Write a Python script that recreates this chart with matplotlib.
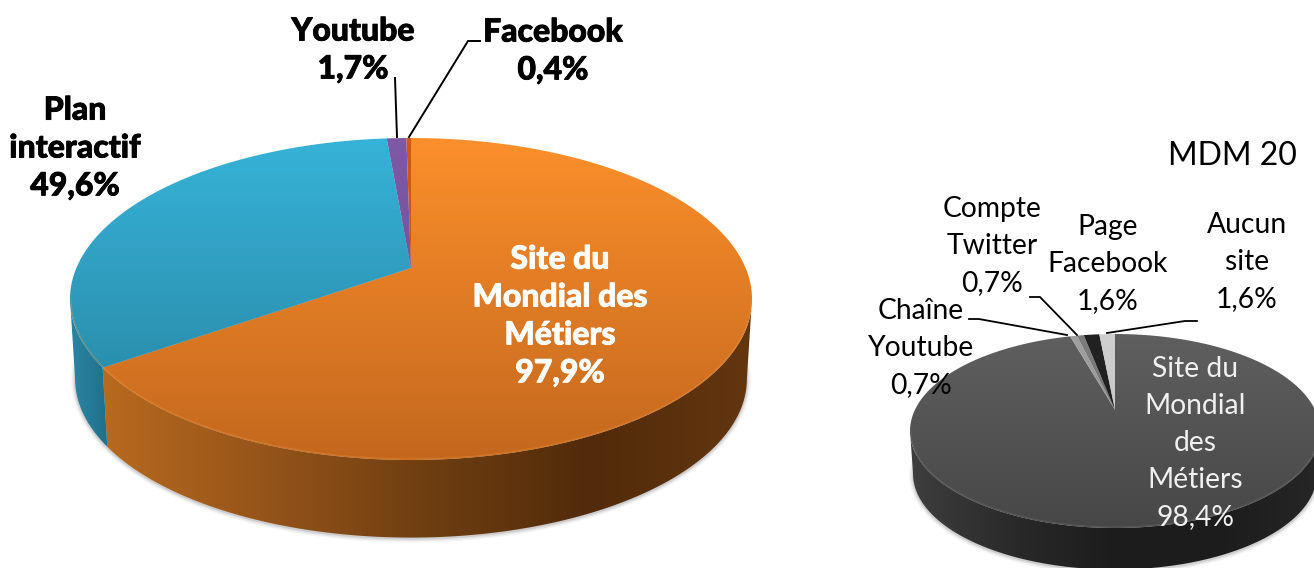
import numpy as np
import matplotlib
matplotlib.use("Agg")
from matplotlib import pyplot as plt
from matplotlib import patheffects
from matplotlib.colors import LinearSegmentedColormap
from matplotlib.patches import Polygon

# left pie, clockwise from the top
left_names = ["Site du\nMondial des\nMétiers", "Plan\ninteractif", "Youtube", "Facebook"]
left_values = [97.9, 49.6, 1.7, 0.4]
left_pct = ["97,9%", "49,6%", "1,7%", "0,4%"]

# right pie, clockwise from the top
right_names = ["Site du\nMondial\ndes\nMétiers", "Chaîne\nYoutube", "Compte\nTwitter", "Page\nFacebook", "Aucun\nsite"]
right_values = [98.4, 0.7, 0.7, 1.6, 1.6]
right_pct = ["98,4%", "0,7%", "0,7%", "1,6%", "1,6%"]

right_title = "MDM 20"

left_top = [("#FB8F2B", "#C4681E"), ("#36B3D8", "#27819E"), ("#7D59A6", "#6F4E93"), ("#D2590F", "#C0500D")]
left_side = [["#B86A1E", "#95541A", "#6E3E10", "#522B0B", "#63360F"], ["#2A86A3", "#20708C"], ["#5a3f78", "#5a3f78"], ["#8a3c0a", "#8a3c0a"]]
right_top = [("#5F5F5F", "#474747"), ("#A0A0A0", "#8E8E8E"), ("#7C7C7C", "#6E6E6E"), ("#222222", "#1C1C1C"), ("#CFCFCF", "#BEBEBE")]
right_side = [["#3E3E3E", "#2A2A2A", "#1C1C1C", "#1C1C1C", "#262626"], ["#555555", "#555555"], ["#444444", "#444444"], ["#111111", "#111111"], ["#777777", "#777777"]]

fig = plt.figure(figsize=(13.14, 5.68), dpi=100)
ax = fig.add_axes([0, 0, 1, 1])
ax.axis("off")


def edge_param(a, cx, cy, rx, ry, ax_x, ax_y):
    # ray from the off-centre apex, gives the angle on the ellipse
    dx = np.sin(a) * rx
    dy = -np.cos(a) * ry
    ox = (ax_x - cx) / rx
    oy = (ax_y - cy) / ry
    A = (dx / rx) ** 2 + (dy / ry) ** 2
    B = 2 * (ox * dx / rx + oy * dy / ry)
    C = ox ** 2 + oy ** 2 - 1
    s = (-B + np.sqrt(B * B - 4 * A * C)) / (2 * A)
    px = ox + s * dx / rx
    py = oy + s * dy / ry
    t = np.arctan2(px, -py)
    if t < -1e-9:
        t += 2 * np.pi
    return t


def gradient_fill(pts, colors, extent, horizontal=False, zorder=2):
    cmap = LinearSegmentedColormap.from_list("g", colors)
    grad = np.linspace(0, 1, 256)
    grad = grad.reshape(1, -1) if horizontal else grad.reshape(-1, 1)
    im = ax.imshow(grad, cmap=cmap, extent=extent, aspect="auto", origin="upper", zorder=zorder)
    patch = Polygon(pts, closed=True, transform=ax.transData, fc="none", ec="none")
    ax.add_patch(patch)
    im.set_clip_path(patch)


def draw_pie(values, top_cols, side_cols, cx, cy, rx, ry, apex_y, depth, shrink, edge_col):
    fracs = np.array(values) / sum(values)
    cuts = np.concatenate([[0], np.cumsum(fracs)]) * 2 * np.pi
    params = [edge_param(a, cx, cy, rx, ry, cx, apex_y) for a in cuts[:-1]] + [2 * np.pi]
    x0, x1 = cx - rx, cx + rx
    y0, y1 = cy - ry, cy + ry + depth

    # soft shadow under the rim
    tt = np.linspace(0, 2 * np.pi, 300)
    for grow, al in [(4, 0.06), (2.5, 0.10), (1, 0.16)]:
        ax.fill(cx + (rx * shrink + grow) * np.sin(tt), cy + depth + 1 - (ry * shrink + grow) * np.cos(tt),
                color="#555555", alpha=al, lw=0, zorder=1)

    # side wall, only the front half shows
    for i in range(len(values)):
        t0 = max(params[i], np.pi / 2)
        t1 = min(params[i + 1], 3 * np.pi / 2)
        if t1 <= t0:
            continue
        t = np.linspace(t0, t1, 200)
        up = np.c_[cx + rx * np.sin(t), cy - ry * np.cos(t)]
        low = np.c_[cx + rx * shrink * np.sin(t), cy + depth - ry * shrink * np.cos(t)]
        pts = np.vstack([up, low[::-1]])
        # gradient runs left to right over the whole wall
        gradient_fill(pts, side_cols[i], (pts[:, 0].min(), pts[:, 0].max(), y1, y0), True)

    # top face
    for i in range(len(values)):
        t = np.linspace(params[i], params[i + 1], 300)
        pts = np.vstack([[[cx, apex_y]], np.c_[cx + rx * np.sin(t), cy - ry * np.cos(t)]])
        gradient_fill(pts, top_cols[i], (x0, x1, y1 - depth, y0), zorder=3)

    # light bevel on the front rim
    t = np.linspace(np.pi / 2, 3 * np.pi / 2, 300)
    ax.plot(cx + (rx - 1) * np.sin(t), cy - (ry - 1) * np.cos(t), color=edge_col, lw=0.9, alpha=0.3, zorder=4)


draw_pie(left_values, left_top, left_side, 411, 299, 341, 161, 268, 80, 0.985, "#F5983A")
draw_pie(right_values, right_top, right_side, 1115, 431, 205, 97, 410, 43, 0.985, "#7A7A7A")

thick = [patheffects.withStroke(linewidth=0.6, foreground="black")]
thick_w = [patheffects.withStroke(linewidth=0.6, foreground="white")]
bold = dict(family=["Lato", "DejaVu Sans"], fontweight="black", fontsize=23, ha="center", va="center", linespacing=1.37, zorder=6)
thin = dict(family=["Lato", "DejaVu Sans"], fontweight="normal", fontsize=20.3, ha="center", va="center", linespacing=1.53, zorder=6)

ax.text(560, 316, left_names[0] + "\n" + left_pct[0], color="white", path_effects=thick_w, **bold)
ax.text(75, 148, left_names[1] + "\n" + left_pct[1], color="black", path_effects=thick, **bold)
ax.text(353, 50, left_names[2] + "\n" + left_pct[2], color="black", path_effects=thick, **bold)
ax.text(553, 51, left_names[3] + "\n" + left_pct[3], color="black", path_effects=thick, **bold)

ax.text(1232, 156, right_title, color="black", family=["Lato", "DejaVu Sans"], fontweight="normal", fontsize=23, ha="center", va="center", zorder=6)
ax.text(1195, 443, right_names[0] + "\n" + right_pct[0], color="#F0F0F0", **thin)
ax.text(921, 348, right_names[1] + "\n" + right_pct[1], color="black", **thin)
ax.text(992, 246, right_names[2] + "\n" + right_pct[2], color="black", **thin)
ax.text(1108, 264, right_names[3] + "\n" + right_pct[3], color="black", **thin)
ax.text(1247, 262, right_names[4] + "\n" + right_pct[4], color="black", **thin)

# leader lines
ax.plot([395, 397], [78, 137], color="black", lw=1.4, zorder=5)
ax.plot([480, 468, 409], [41, 41, 137], color="black", lw=1.4, zorder=5)
ax.plot([969, 979, 1067], [319, 319, 335], color="black", lw=1.3, zorder=5)
ax.plot([1030, 1040, 1077], [297, 297, 335], color="black", lw=1.3, zorder=5)
ax.plot([1197, 1185, 1107], [321, 321, 333], color="black", lw=1.3, zorder=5)

ax.set_xlim(0, 1314)
ax.set_ylim(568, 0)
fig.savefig("out.png", dpi=100)
